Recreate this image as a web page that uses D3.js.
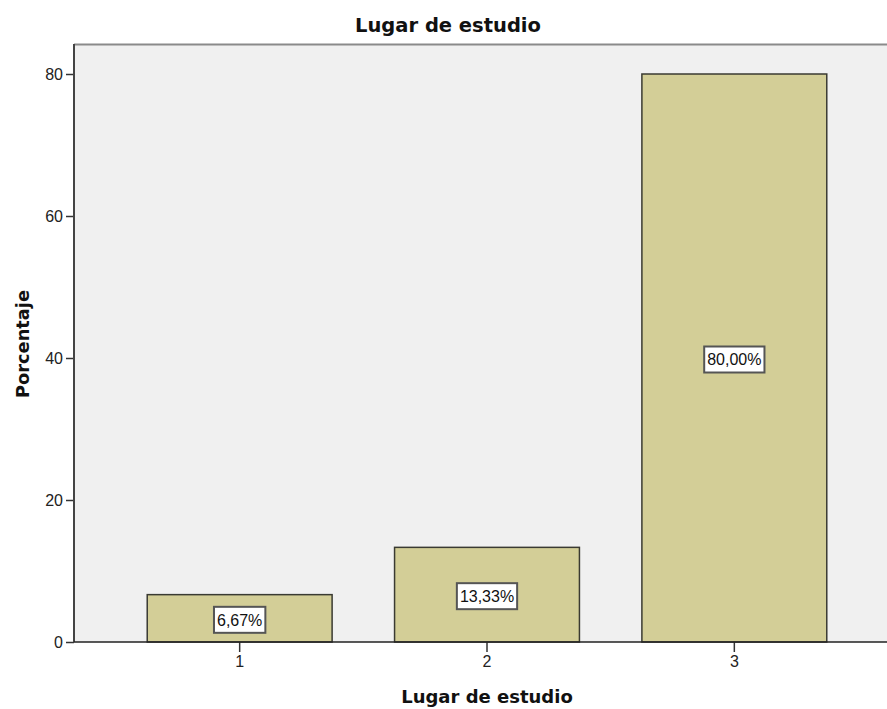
<!DOCTYPE html>
<html>
<head>
<meta charset="utf-8">
<script src="https://cdn.jsdelivr.net/npm/d3@7"></script>
<style>
html,body{margin:0;padding:0;background:#fff;}
svg{display:block;}
</style>
</head>
<body>
<script>
const categories = ["1", "2", "3"];
const values = [6.67, 13.33, 80.00];
const valueLabels = ["6,67%", "13,33%", "80,00%"];
const yTicks = [0, 20, 40, 60, 80];
const chartTitle = "Lugar de estudio";
const xTitle = "Lugar de estudio";
const yTitle = "Porcentaje";

const W = 887, H = 709;
const plotL = 74, plotR = 887, plotT = 44, plotB = 642;

const svg = d3.select("body").append("svg").attr("width", W).attr("height", H);

const y = d3.scaleLinear().domain([0, 80]).range([plotB, 74]);
const x = d3.scaleBand().domain(categories).range([116, 858])
  .paddingInner(0.2525).paddingOuter(0.12626);

// plot background
svg.append("rect").attr("x", plotL).attr("y", plotT)
  .attr("width", plotR - plotL).attr("height", plotB - plotT)
  .attr("fill", "#f0f0f0");
// top border
svg.append("line").attr("x1", plotL).attr("x2", plotR).attr("y1", plotT + 0.5).attr("y2", plotT + 0.5)
  .attr("stroke", "#8a8a8a").attr("stroke-width", 2);

// bars
svg.selectAll("rect.bar").data(values).enter().append("rect")
  .attr("class", "bar")
  .attr("x", (d, i) => x(categories[i]))
  .attr("y", d => y(d))
  .attr("width", x.bandwidth())
  .attr("height", d => y(0) - y(d))
  .attr("fill", "#d3ce97")
  .attr("stroke", "#3a3a32")
  .attr("stroke-width", 1.5);

// axes
const yAxis = d3.axisLeft(y).tickValues(yTicks).tickSize(8).tickPadding(3).tickFormat(d3.format("d"));
const gy = svg.append("g").attr("transform", `translate(${plotL},0)`).call(yAxis);
gy.select(".domain").remove();
gy.selectAll(".tick line").attr("stroke", "#333").attr("stroke-width", 1.5);
gy.selectAll(".tick text").attr("font-family", "Liberation Sans, Arial, sans-serif").attr("font-size", 16).attr("fill", "#222");

const xAxis = d3.axisBottom(x).tickSize(10).tickPadding(4);
const gx = svg.append("g").attr("transform", `translate(0,${plotB})`).call(xAxis);
gx.select(".domain").remove();
gx.selectAll(".tick line").attr("stroke", "#333").attr("stroke-width", 1.5);
gx.selectAll(".tick text").attr("font-family", "Liberation Sans, Arial, sans-serif").attr("font-size", 16).attr("fill", "#222");

// axis lines
svg.append("line").attr("x1", plotL).attr("x2", plotL).attr("y1", plotT).attr("y2", plotB)
  .attr("stroke", "#444").attr("stroke-width", 2);
svg.append("line").attr("x1", plotL).attr("x2", plotR).attr("y1", plotB).attr("y2", plotB)
  .attr("stroke", "#222").attr("stroke-width", 1.5);

// value labels
const lg = svg.selectAll("g.lbl").data(values).enter().append("g").attr("class", "lbl")
  .attr("transform", (d, i) => `translate(${x(categories[i]) + x.bandwidth() / 2},${(y(d) + y(0)) / 2 + 1.5})`);
lg.append("rect").attr("class", "box");
lg.append("text")
  .attr("text-anchor", "middle").attr("dy", "0.36em")
  .attr("font-family", "Liberation Sans, Arial, sans-serif").attr("font-size", 16).attr("fill", "#111")
  .text((d, i) => valueLabels[i]);
lg.each(function () {
  const g = d3.select(this);
  const bb = g.select("text").node().getBBox();
  g.select("rect.box").attr("x", bb.x - 3).attr("y", -13).attr("width", bb.width + 6).attr("height", 26)
    .attr("fill", "#fff").attr("stroke", "#555").attr("stroke-width", 2);
});

// titles
svg.append("text").attr("x", 448).attr("y", 32).attr("text-anchor", "middle")
  .attr("font-family", "DejaVu Sans, sans-serif").attr("font-weight", "bold").attr("font-size", 19.5)
  .attr("fill", "#111").text(chartTitle);
svg.append("text").attr("x", 487).attr("y", 703).attr("text-anchor", "middle")
  .attr("font-family", "DejaVu Sans, sans-serif").attr("font-weight", "bold").attr("font-size", 18)
  .attr("fill", "#111").text(xTitle);
svg.append("text").attr("transform", "translate(29,344) rotate(-90)").attr("text-anchor", "middle")
  .attr("font-family", "DejaVu Sans, sans-serif").attr("font-weight", "bold").attr("font-size", 17.8)
  .attr("fill", "#111").text(yTitle);
</script>
</body>
</html>
